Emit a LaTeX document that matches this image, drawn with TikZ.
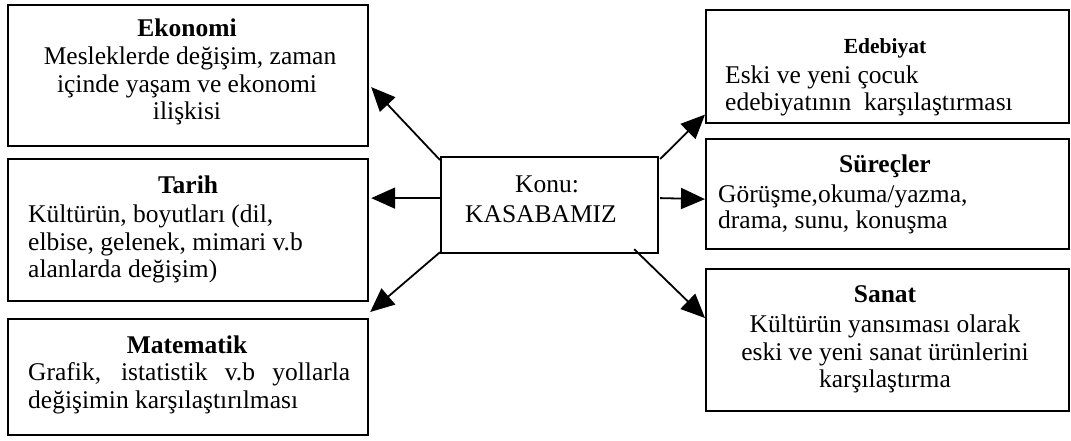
\documentclass[tikz,border=0pt]{standalone}
\usepackage{fontspec}
\setmainfont{Liberation Serif}
\usetikzlibrary{arrows.meta,calc}
\begin{document}
\begin{tikzpicture}[x=1pt,y=-1pt,
  box/.style={draw,line width=2.2pt,inner sep=0pt,anchor=north west},
  tx/.style={anchor=base,inner sep=0pt,font=\fontsize{25.5}{28}\selectfont},
  txl/.style={tx,anchor=base west},
  hd/.style={tx,font=\fontsize{25.5}{28}\selectfont\bfseries},
  hds/.style={tx,font=\fontsize{21.5}{24}\selectfont\bfseries},
  arr/.style={line width=1.8pt,-{Triangle[length=24pt,width=21pt]}}]
\useasboundingbox (0,0) rectangle (1071,440);
\fill[white] (0,0) rectangle (1071,440);
% boxes
\node[box,minimum width=360pt,minimum height=141pt] (L1) at (7,4) {};
\node[box,minimum width=360pt,minimum height=142pt] (L2) at (7,158) {};
\node[box,minimum width=360pt,minimum height=116pt] (L3) at (7,318) {};
\node[box,minimum width=217pt,minimum height=96pt] (C) at (440,156) {};
\node[box,minimum width=363pt,minimum height=113pt] (R1) at (705,9) {};
\node[box,minimum width=363pt,minimum height=110pt] (R2) at (705,138) {};
\node[box,minimum width=363pt,minimum height=142pt] (R3) at (705,268) {};
% Ekonomi
\node[hd] (e0) at (187,36) {Ekonomi};
\node[tx] (e1) at (190,64) {Mesleklerde değişim, zaman};
\node[tx] (e2) at (187,92) {içinde yaşam ve ekonomi};
\node[tx] (e3) at (187,119) {ilişkisi};
% Tarih
\node[hd] (t0) at (188,193) {Tarih};
\node[txl] (t1) at (28,222) {Kültürün, boyutları (dil,};
\node[txl] (t2) at (28,250) {elbise, gelenek, mimari v.b};
\node[txl] (t3) at (28,277) {alanlarda değişim)};
% Matematik
\node[hd] (m0) at (187,353) {Matematik};
\node[txl] (m1) at (28,380) {\makebox[322pt][s]{Grafik, istatistik v.b yollarla}};
\node[txl] (m2) at (28,408) {değişimin karşılaştırılması};
% Konu
\node[tx] (k0) at (547,192) {Konu:};
\node[tx] (k1) at (541,222) {KASABAMIZ};
% Edebiyat
\node[hds] (d0) at (885,53) {Edebiyat};
\node[txl] (d1) at (725,83) {Eski ve yeni çocuk};
\node[txl] (d2) at (725,110) {edebiyatının\ \ karşılaştırması};
% Surecler
\node[hd] (s0) at (885,172) {Süreçler};
\node[txl] (s1) at (718,202) {Görüşme,okuma/yazma,};
\node[txl] (s2) at (718,228) {drama, sunu, konuşma};
% Sanat
\node[hd] (n0) at (885,302) {Sanat};
\node[tx] (n1) at (885,332) {Kültürün yansıması olarak};
\node[tx] (n2) at (885,360) {eski ve yeni sanat ürünlerini};
\node[tx] (n3) at (885,387) {karşılaştırma};
% arrows
\draw[arr] ($(C.north west)+(0,4)$) -- ($(L1.east)+(2,11.5)$);
\draw[arr] ($(C.west)+(0,-7)$) -- ($(L2.east)+(2,-32)$);
\draw[arr] ($(C.south west)+(0,-2)$) -- ($(L3.north east)+(1,-6)$);
\draw[arr] ($(C.north east)+(1,3)$) -- ($(R1.west)+(0,48)$);
\draw[arr] ($(C.east)+(1,-7)$) -- ($(R2.west)+(0,5)$);
\draw[arr] ($(C.south east)+(-25,-5)$) -- ($(R3.north west)+(0,50)$);
\end{tikzpicture}
\end{document}
